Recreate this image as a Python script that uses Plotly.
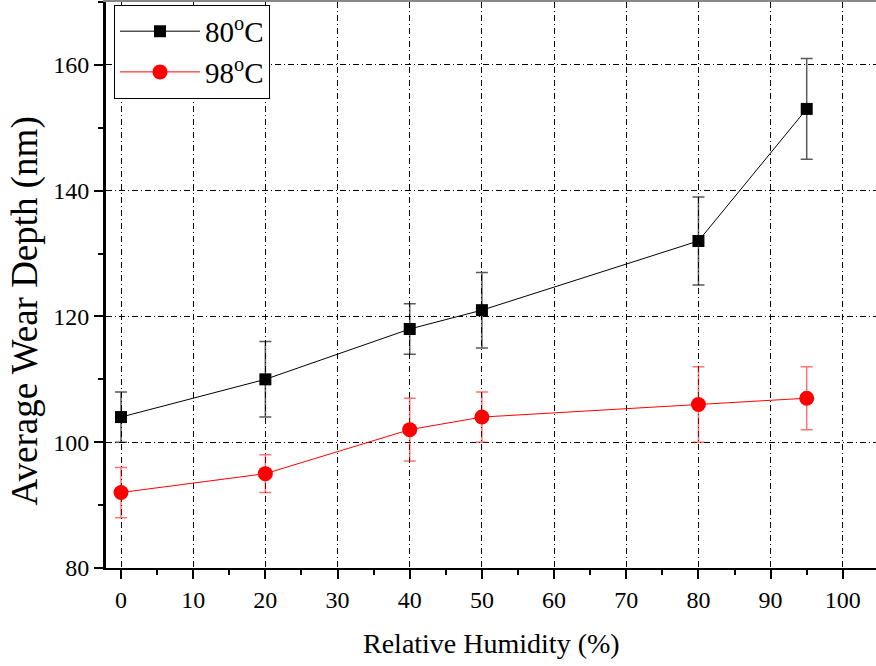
import plotly.graph_objects as go

humidity = [0, 20, 40, 50, 80, 95]
depth_80 = [104, 110, 118, 121, 132, 153]
err_80 = [4, 6, 4, 6, 7, 8]
depth_98 = [92, 95, 102, 104, 106, 107]
err_98 = [4, 3, 5, 4, 6, 5]
x_ticks = [0, 10, 20, 30, 40, 50, 60, 70, 80, 90, 100]
y_ticks = [80, 100, 120, 140, 160]
x_title = "Relative Humidity (%)"
y_title = "Average Wear Depth (nm)"

FONT = "Liberation Serif, Times New Roman, serif"

fig = go.Figure()
fig.add_trace(go.Scatter(
    x=humidity, y=depth_80, mode="lines+markers", name="80<sup>o</sup>C",
    line=dict(color="black", width=1),
    marker=dict(symbol="square", size=12, color="black"),
    error_y=dict(type="data", array=err_80, visible=True, color="rgba(0,0,0,0.65)", thickness=1.5, width=6),
))
fig.add_trace(go.Scatter(
    x=humidity, y=depth_98, mode="lines+markers", name="98<sup>o</sup>C",
    line=dict(color="red", width=1),
    marker=dict(symbol="circle", size=15, color="red"),
    error_y=dict(type="data", array=err_98, visible=True, color="rgba(255,0,0,0.55)", thickness=1.5, width=6),
))

# invisible trace for top axis
fig.add_trace(go.Scatter(x=[0], y=[80], xaxis="x2", mode="markers", marker=dict(opacity=0),
                         showlegend=False, hoverinfo="skip"))

grid_dash = "6px,3px,1px,3px"
fig.update_layout(
    width=876, height=666,
    margin=dict(l=106, r=0, t=2, b=98, autoexpand=False),
    paper_bgcolor="white", plot_bgcolor="white",
    font=dict(family=FONT, color="black", size=24),
    showlegend=True,
    legend=dict(
        x=0.0104, y=0.995, xanchor="left", yanchor="top",
        bgcolor="white", bordercolor="black", borderwidth=1,
        font=dict(family=FONT, size=29, color="black"),
        itemwidth=80, tracegroupgap=0,
    ),
    xaxis=dict(
        range=[-2.08, 104.6], tickvals=x_ticks, ticktext=[str(v) for v in x_ticks],
        automargin=False,
        showline=True, linecolor="black", linewidth=2,
        ticks="outside", ticklen=9, tickwidth=2, tickcolor="black",
        minor=dict(ticks="outside", ticklen=5, tickwidth=2, dtick=5, tick0=0, tickcolor="black", showgrid=False),
        showgrid=True, gridcolor="black", gridwidth=1, griddash=grid_dash,
        zeroline=False,
        tickfont=dict(family=FONT, size=24),
    ),
    xaxis2=dict(
        overlaying="x", side="top", matches="x", range=[-2.08, 104.6],
        automargin=False,
        tickvals=x_ticks, showticklabels=False,
        showline=True, linecolor="#888888", linewidth=2,
        ticks="inside", ticklen=6, tickwidth=1, tickcolor="black",
        showgrid=False, zeroline=False,
    ),
    yaxis=dict(
        range=[80, 170], tickvals=y_ticks, ticktext=[str(v) for v in y_ticks],
        automargin=False,
        showline=True, linecolor="black", linewidth=3,
        ticks="outside", ticklen=9, tickwidth=2, tickcolor="black",
        minor=dict(ticks="outside", ticklen=5, tickwidth=2, dtick=10, tick0=80, tickcolor="black", showgrid=False),
        showgrid=True, gridcolor="black", gridwidth=1, griddash=grid_dash,
        zeroline=False,
        tickfont=dict(family=FONT, size=24),
    ),
    annotations=[
        dict(text=x_title, xref="paper", yref="paper", x=0.5, y=-0.133,
             xanchor="center", yanchor="middle", showarrow=False,
             font=dict(family=FONT, size=28, color="black")),
        dict(text=y_title, xref="paper", yref="paper", x=-0.104,
             y=0.455, xanchor="center", yanchor="middle", showarrow=False, textangle=-90,
             font=dict(family=FONT, size=37, color="black")),
    ],
)

fig.write_html("out.html", config={"displayModeBar": False},
               post_script="document.body.style.margin='0';document.body.style.padding='0';")
